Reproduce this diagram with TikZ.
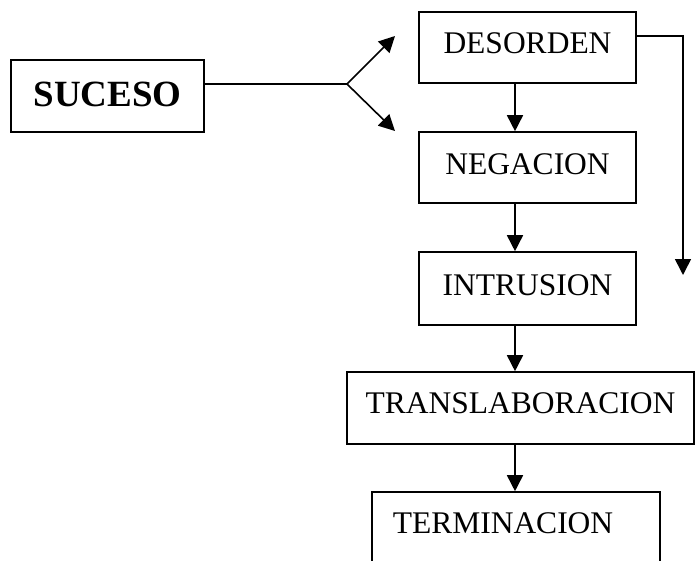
\documentclass[tikz,border=0pt]{standalone}
\usepackage{fontspec}
\setmainfont{Liberation Serif}
\usepackage{tikz}
\usetikzlibrary{calc}
\usetikzlibrary{arrows.meta}

\begin{document}
\begin{tikzpicture}[x=1pt, y=-1pt, >={Triangle[length=16pt,width=16pt]}, boxnode/.style={draw, line width=1.6pt, inner sep=0pt, text height=21pt, font=\fontsize{31.5}{37}\selectfont}, boxnode2/.style={draw, line width=1.6pt, inner sep=0pt, text height=25pt, font=\bfseries\fontsize{37}{44}\selectfont}]
			\useasboundingbox (0,0) rectangle (696,560);
			\coordinate (col) at (527.5,47.5);
			\coordinate (axis) at (515,0);

			\node[boxnode2, minimum width=193pt, minimum height=72pt, text depth=5pt] (suceso) at (107.5,96) {SUCESO};

			\node[boxnode, minimum width=217pt, minimum height=71pt, text depth=10pt] (desorden) at (col) {DESORDEN};
			\node[boxnode, minimum width=217pt, minimum height=71pt, text depth=7pt] (negacion) at ($(col)+(0,120)$) {NEGACION};
			\node[boxnode, minimum width=217pt, minimum height=73pt, text depth=7pt] (intrusion) at ($(col)+(0,241)$) {INTRUSION};
			\node[boxnode, minimum width=347pt, minimum height=72pt, text depth=11pt] (translab) at ($(col)+(-7,360.5)$) {TRANSLABORACION};
			\node[boxnode, minimum width=288pt, minimum height=72pt, text depth=11pt] (termina) at ($(col)+(-11.5,480.5)$) {TERMINACION\kern26pt};

			\coordinate (fork) at (347,84);
			\coordinate (tipup) at (395,36);
			\coordinate (tipdown) at (395,131);
			\coordinate (corner) at (683,36);
			\coordinate (loopend) at (683,275);

			%suceso se abre en dos
			\draw[line width=1.6pt] (suceso.east |- fork) -- (fork);
			\draw[line width=1.6pt, ->] (fork) -- (tipup);
			\draw[line width=1.6pt, ->] (fork) -- (tipdown);

			\draw[line width=1.6pt, ->] (desorden.south -| axis) -- (negacion.north -| axis);
			\draw[line width=1.6pt, ->] (negacion.south -| axis) -- (intrusion.north -| axis);
			\draw[line width=1.6pt, ->] (intrusion.south -| axis) -- (translab.north -| axis);
			\draw[line width=1.6pt, ->] (translab.south -| axis) -- (termina.north -| axis);

			\draw[line width=1.6pt, ->] (desorden.east |- corner) -- (corner) -- (loopend);

		\end{tikzpicture}
\end{document}
